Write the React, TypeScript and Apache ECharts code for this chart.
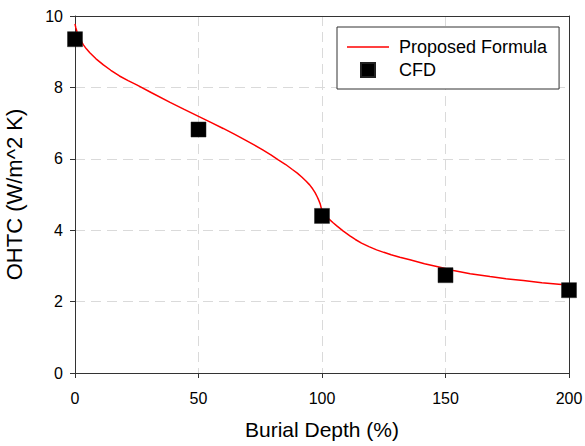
import React, { useEffect, useRef } from "react";
import * as echarts from "echarts";

const xTicks = [0, 50, 100, 150, 200];
const yTicks = [0, 2, 4, 6, 8, 10];

// CFD results
const cfdDepth = [0, 50, 100, 150, 200];
const cfdOhtc = [9.35, 6.82, 4.4, 2.74, 2.32];

// Proposed formula curve
const formulaDepth = [
  0, 0.3, 0.8, 1.5, 2.4, 3.4, 4.6, 6, 8.5, 11.5, 14.5, 18, 21.5, 25, 31, 38.5,
  44, 50, 55, 60, 64.5, 68.8, 72.5, 76, 79.3, 82.3, 85.3, 88, 90, 91.8, 93.5,
  95, 96.2, 97.2, 98.1, 98.8, 99.3, 99.7, 100, 100.4, 101, 102, 103.2, 104.5,
  106, 108.5, 111.3, 113.5, 116, 119, 122.1, 125, 128, 131.5, 135.6, 141.5,
  147.8, 153.2, 160, 168, 174.5, 181.5, 189, 197, 200,
];
const formulaOhtc = [
  9.78, 9.68, 9.56, 9.44, 9.31, 9.19, 9.08, 8.97, 8.8, 8.63, 8.48, 8.32, 8.19,
  8.07, 7.85, 7.58, 7.39, 7.19, 7.02, 6.85, 6.69, 6.53, 6.39, 6.25, 6.11,
  5.97, 5.84, 5.7, 5.6, 5.49, 5.38, 5.27, 5.16, 5.05, 4.93, 4.82, 4.73, 4.62,
  4.5, 4.46, 4.42, 4.36, 4.29, 4.21, 4.12, 3.98, 3.84, 3.74, 3.64, 3.54, 3.45,
  3.38, 3.31, 3.24, 3.17, 3.06, 2.96, 2.87, 2.78, 2.7, 2.64, 2.59, 2.53, 2.48,
  2.46,
];

const FONT = "Liberation Sans, Arial, sans-serif";

export default function App() {
  const ref = useRef<HTMLDivElement>(null);

  useEffect(() => {
    if (!ref.current) return;
    const chart = echarts.init(ref.current, undefined, { renderer: "svg" });
    const gridLine = {
      show: true,
      showMinLine: false,
      showMaxLine: false,
      lineStyle: { color: "#dadada", type: [10, 6], width: 1 },
    };
    const frameAxis = {
      type: "value",
      axisLine: { show: true, onZero: false, lineStyle: { color: "#333", width: 1 } },
      axisTick: { show: false },
      axisLabel: { show: false },
      splitLine: { show: false },
    };
    chart.setOption({
      animation: false,
      backgroundColor: "#ffffff",
      textStyle: { fontFamily: FONT },
      grid: {
        left: 75,
        right: 16,
        top: 16,
        bottom: 73,
        show: false,
        containLabel: false,
        outerBoundsMode: "none",
      },
      legend: {
        orient: "vertical",
        left: 337,
        top: 27,
        padding: [11, 12, 10, 10],
        borderColor: "#333",
        borderWidth: 1,
        backgroundColor: "#fff",
        itemWidth: 42,
        itemHeight: 14,
        itemGap: 5,
        textStyle: {
          fontFamily: FONT,
          fontSize: 18,
          color: "#000",
          lineHeight: 18,
          padding: [0, 0, 0, 5],
        },
        data: [
          { name: "Proposed Formula", icon: "path://M0,0h42v1.5h-42z" },
          { name: "CFD", icon: "path://M0,0h1v1h-1z" },
        ],
      },
      xAxis: [
        {
          type: "value",
          min: xTicks[0],
          max: xTicks[xTicks.length - 1],
          interval: 50,
          name: "Burial Depth (%)",
          nameLocation: "middle",
          nameGap: 46,
          nameTextStyle: { fontFamily: FONT, fontSize: 21, color: "#000" },
          axisLine: { show: true, onZero: false, lineStyle: { color: "#333", width: 1 } },
          axisTick: { show: true, inside: false, length: 5, lineStyle: { color: "#333" } },
          axisLabel: {
            fontFamily: FONT,
            fontSize: 16,
            color: "#000",
            margin: 17,
            showMaxLabel: true,
            formatter: (v: number) => String(v),
          },
          splitLine: gridLine,
        },
        { ...frameAxis, position: "top", min: 0, max: 200 },
      ],
      yAxis: [
        {
          type: "value",
          min: yTicks[0],
          max: yTicks[yTicks.length - 1],
          interval: 2,
          name: "OHTC (W/m^2 K)",
          nameLocation: "middle",
          nameGap: 50,
          nameTextStyle: { fontFamily: FONT, fontSize: 22, color: "#000" },
          axisLine: { show: true, onZero: false, lineStyle: { color: "#333", width: 1 } },
          axisTick: { show: true, inside: false, length: 5, lineStyle: { color: "#333" } },
          axisLabel: {
            fontFamily: FONT,
            fontSize: 16,
            color: "#000",
            margin: 12,
          },
          splitLine: gridLine,
        },
        { ...frameAxis, position: "right", min: 0, max: 10 },
      ],
      series: [
        {
          name: "Proposed Formula",
          type: "line",
          data: formulaDepth.map((x, i) => [x, formulaOhtc[i]]),
          symbol: "none",
          showSymbol: false,
          smooth: false,
          lineStyle: { color: "#ff0000", width: 1.5 },
          itemStyle: { color: "#ff0000" },
          z: 3,
        },
        {
          name: "CFD",
          type: "scatter",
          data: cfdDepth.map((x, i) => [x, cfdOhtc[i]]),
          symbol: "rect",
          symbolSize: 15,
          itemStyle: { color: "#000", borderColor: "#222", borderWidth: 0.5, opacity: 1 },
          clip: false,
          z: 4,
        },
      ],
    });
    return () => chart.dispose();
  }, []);

  return (
    <div
      ref={ref}
      style={{ position: "fixed", left: 0, top: 0, width: 585, height: 446 }}
    />
  );
}
